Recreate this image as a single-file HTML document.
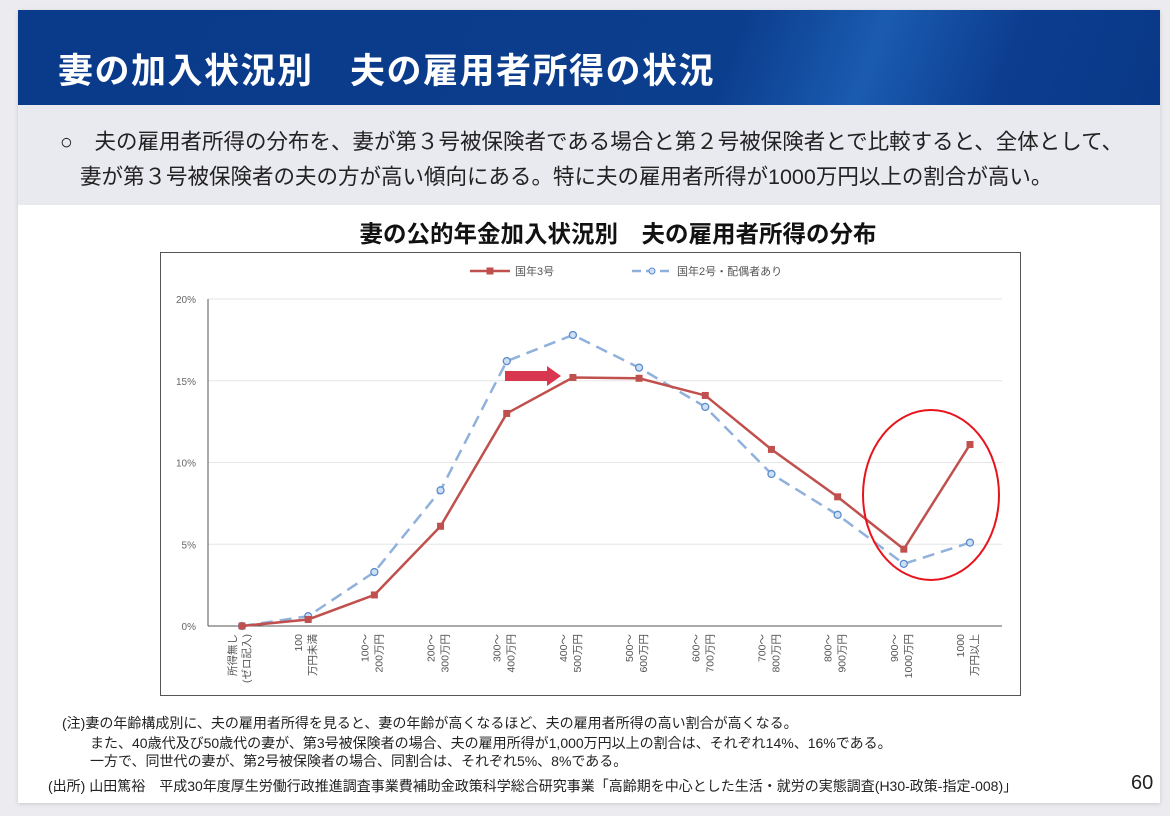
<!DOCTYPE html>
<html><head><meta charset="utf-8">
<style>
body{margin:0;width:1170px;height:816px;background:#ececf0;font-family:"Liberation Sans","Noto Sans CJK JP",sans-serif;position:relative;overflow:hidden}
.slide{position:absolute;left:18px;top:10px;width:1142px;height:793px;background:#fff;box-shadow:0 1px 4px rgba(0,0,0,.15)}
.hdr{position:absolute;left:18px;top:10px;width:1142px;height:95px;background:linear-gradient(110deg,#0a3a8a 0%,#0c3e8e 62%,#1a5bb0 74%,#0c3d8f 86%,#093887 100%)}
.hdr div{position:absolute;left:40px;top:33px;color:#fff;font-size:35px;font-weight:bold;letter-spacing:1.5px;white-space:nowrap}
.sum{position:absolute;left:18px;top:105px;width:1142px;height:100px;background:#e9e9f0}
.sum p{position:absolute;margin:0;font-size:21.5px;color:#222;white-space:nowrap}
.note{position:absolute;font-size:14px;color:#222;white-space:nowrap}
</style></head><body>
<div class="slide"></div>
<div class="hdr"><div>妻の加入状況別　夫の雇用者所得の状況</div></div>
<div class="sum">
<p style="left:42px;top:20px">○　夫の雇用者所得の分布を、妻が第３号被保険者である場合と第２号被保険者とで比較すると、全体として、</p>
<p style="left:62px;top:55px">妻が第３号被保険者の夫の方が高い傾向にある。特に夫の雇用者所得が1000万円以上の割合が高い。</p>
</div>
<div style="position:absolute;left:0;width:1236px;top:215px;text-align:center;font-size:23.5px;font-weight:bold;color:#111">妻の公的年金加入状況別　夫の雇用者所得の分布</div>
<svg id="chart" width="1170" height="816" style="position:absolute;left:0;top:0"></svg>
<div class="note" style="left:62px;top:713px">(注)妻の年齢構成別に、夫の雇用者所得を見ると、妻の年齢が高くなるほど、夫の雇用者所得の高い割合が高くなる。</div>
<div class="note" style="left:90px;top:733px">また、40歳代及び50歳代の妻が、第3号被保険者の場合、夫の雇用所得が1,000万円以上の割合は、それぞれ14%、16%である。</div>
<div class="note" style="left:90px;top:751px">一方で、同世代の妻が、第2号被保険者の場合、同割合は、それぞれ5%、8%である。</div>
<div class="note" style="left:48px;top:776px">(出所) 山田篤裕　平成30年度厚生労働行政推進調査事業費補助金政策科学総合研究事業「高齢期を中心とした生活・就労の実態調査(H30-政策-指定-008)」</div>
<div style="position:absolute;left:1131px;top:772px;font-size:20px;color:#222">60</div>
<script>
const categories=[["所得無し","(ゼロ記入)"],["100","万円未満"],["100～","200万円"],["200～","300万円"],["300～","400万円"],["400～","500万円"],["500～","600万円"],["600～","700万円"],["700～","800万円"],["800～","900万円"],["900～","1000万円"],["1000","万円以上"]];
const kokunen3=[0,0.4,1.9,6.1,13.0,15.2,15.15,14.1,10.8,7.9,4.7,11.1];
const kokunen2=[0,0.6,3.3,8.3,16.2,17.8,15.8,13.4,9.3,6.8,3.8,5.1];
const yTicks=[0,5,10,15,20];
const svg=document.getElementById('chart');const NS='http://www.w3.org/2000/svg';
function mk(t,a,p){const e=document.createElementNS(NS,t);for(const k in a)e.setAttribute(k,a[k]);(p||svg).appendChild(e);return e;}
const x0=242,x1=970,yb=626,yt=299,ymax=20;
const X=i=>x0+i*(x1-x0)/(categories.length-1);
const Y=v=>yb-v/ymax*(yb-yt);
let f=mk('rect',{x:160.5,y:252.5,width:860,height:443,fill:'#fff',stroke:'#555','stroke-width':1});


yTicks.forEach(v=>{
 if(v>0){const g=mk('line',{x1:208,x2:1002,y1:Y(v),y2:Y(v),stroke:'#e6e6e6','stroke-width':1});
 
 }
 const t=mk('text',{x:196,y:Y(v)+4,'text-anchor':'end','font-size':10,fill:'#666'});t.textContent=v+'%';
 
 
});
let ax=mk('line',{x1:208,x2:208,y1:yt,y2:yb,stroke:'#555'});


let bx=mk('line',{x1:208,x2:1002,y1:yb,y2:yb,stroke:'#555'});


categories.forEach((c,i)=>{
 c.forEach((s,j)=>{
  const t=mk('text',{transform:`translate(${X(i)-6+j*14},634) rotate(-90)`,'text-anchor':'end','font-size':10.5,fill:'#555'});t.textContent=s;
  
  
 });
});
function series(vals,color,dash,marker,name){
 const p=mk('polyline',{points:vals.map((v,i)=>X(i)+','+Y(v)).join(' '),fill:'none',stroke:color,'stroke-width':2.5,'stroke-dasharray':dash});
 
 
 vals.forEach((v,i)=>{let m;
  if(marker==='sq')m=mk('rect',{x:X(i)-3.5,y:Y(v)-3.5,width:7,height:7,fill:color});
  else m=mk('circle',{cx:X(i),cy:Y(v),r:3.5,fill:'#cfe0f5',stroke:'#5b8ccc','stroke-width':1.3});
  
  
 });
}
series(kokunen2,'#8fb1dc','12 7','ci','kokunen2');
series(kokunen3,'#c0504d','none','sq','kokunen3');
let l1=mk('line',{x1:470,x2:510,y1:271,y2:271,stroke:'#c0504d','stroke-width':2.5});


mk('rect',{x:486.5,y:267.5,width:7,height:7,fill:'#c0504d'});
let lt1=mk('text',{x:515,y:275,'font-size':11,fill:'#555'});lt1.textContent='国年3号';


let l2=mk('line',{x1:632,x2:672,y1:271,y2:271,stroke:'#8fb1dc','stroke-width':2.5,'stroke-dasharray':'9 5'});


mk('circle',{cx:652,cy:271,r:3,fill:'#cfe0f5',stroke:'#5b8ccc'});
let lt2=mk('text',{x:677,y:275,'font-size':11,fill:'#555'});lt2.textContent='国年2号・配偶者あり';


let ar=mk('path',{d:'M505,371 L547,371 L547,366 L561,376 L547,386 L547,381 L505,381 Z',fill:'#d9364f'});


let el=mk('ellipse',{cx:931,cy:495,rx:68,ry:85,fill:'none',stroke:'#e8141c','stroke-width':2});


</script>
</body></html>
